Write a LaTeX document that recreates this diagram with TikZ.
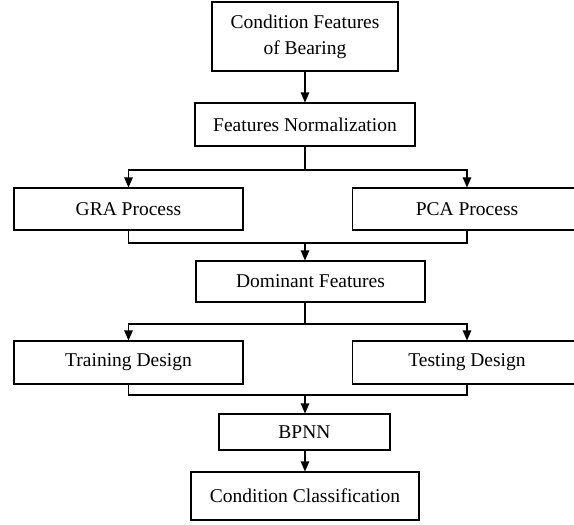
\documentclass[tikz,border=0pt]{standalone}
\usepackage{fontspec}
\setmainfont{Liberation Serif}
\usetikzlibrary{arrows.meta,calc}
\begin{document}
\begin{tikzpicture}[x=1pt,y=-1pt,
  box/.style={draw=black,line width=1.1pt,inner sep=0pt,align=center,
    font=\fontsize{19.5}{26}\selectfont},
  conn/.style={line width=1.1pt,draw=black},
  arr/.style={conn,-{Triangle[length=10pt,width=8.5pt]}}]
\clip (0,0) rectangle (574,525);
\fill[white] (0,0) rectangle (574,525);
\node[box,minimum width=186pt,minimum height=69pt] (cfb) at (305,36.5) {Condition Features\\of Bearing};
\node[box,minimum width=220pt,minimum height=43pt] (fn) at (305,124.5) {Features Normalization};
\node[box,minimum width=229pt,minimum height=42pt] (gra) at (128.5,209) {GRA Process};
\node[box,minimum width=229pt,minimum height=42pt] (pca) at (467,209) {PCA Process};
\node[box,minimum width=229pt,minimum height=41pt] (dom) at (310.5,281.5) {Dominant Features};
\node[box,minimum width=229pt,minimum height=43pt] (tr) at (128.5,362.5) {Training Design};
\node[box,minimum width=229pt,minimum height=43pt] (te) at (467,362.5) {Testing Design};
\node[box,minimum width=171pt,minimum height=36pt] (bp) at (304.5,432) {BPNN};
\node[box,minimum width=228pt,minimum height=48pt] (cc) at (305,496) {Condition Classification};
\coordinate (j1) at (305,170);
\coordinate (j1l) at (128.5,170);
\coordinate (j1r) at (467,170);
\coordinate (j2) at (305,243);
\coordinate (j2l) at (128.5,243);
\coordinate (j2r) at (467,243);
\coordinate (j3) at (305,324);
\coordinate (j3l) at (128.5,324);
\coordinate (j3r) at (467,324);
\coordinate (j4) at (305,395);
\coordinate (j4l) at (128.5,395);
\coordinate (j4r) at (467,395);
\draw[arr] (cfb.south) -- (fn.north);
\draw[conn] (fn.south) -- (j1);
\draw[arr] (j1) -- (j1l) -- (gra.north);
\draw[arr] (j1) -- (j1r) -- (pca.north);
\draw[conn] (gra.south) -- (j2l) -- (j2r) -- (pca.south);
\draw[arr] (j2) -- (j2 |- dom.north);
\draw[conn] (j2 |- dom.south) -- (j3);
\draw[arr] (j3) -- (j3l) -- (tr.north);
\draw[arr] (j3) -- (j3r) -- (te.north);
\draw[conn] (tr.south) -- (j4l) -- (j4r) -- (te.south);
\draw[arr] (j4) -- (j4 |- bp.north);
\draw[arr] (j4 |- bp.south) -- (j4 |- cc.north);
\end{tikzpicture}
\end{document}
